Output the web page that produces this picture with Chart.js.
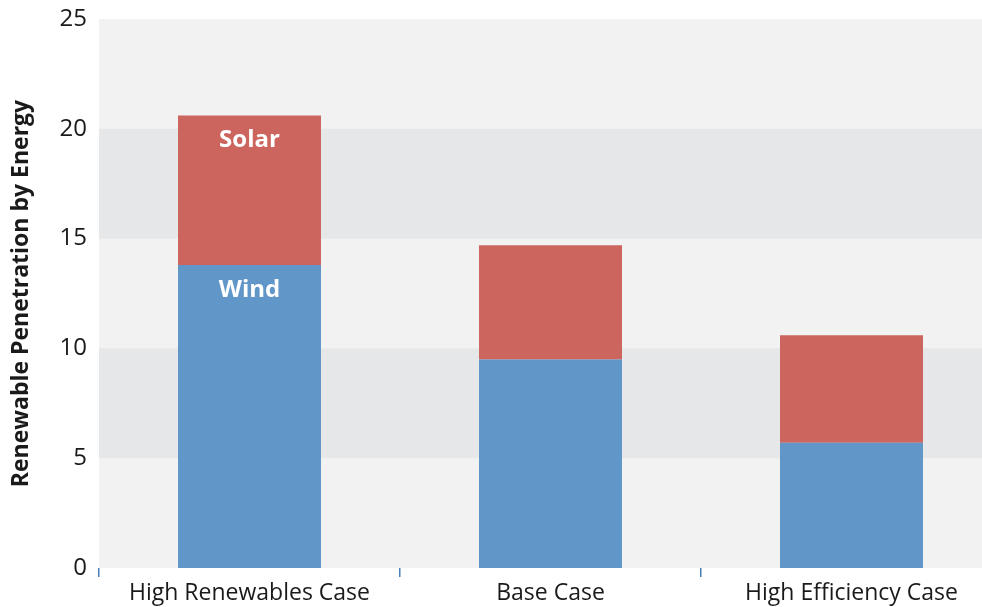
<!DOCTYPE html>
<html lang="en">
<head>
  <meta charset="UTF-8" />
  <title>Renewable Penetration by Energy</title>
  <script src="https://cdn.jsdelivr.net/npm/chart.js"></script>
  <style>
    * { box-sizing: border-box; }
    body { margin: 0; background: #fff; overflow: hidden; }
    /* the original plot runs past the right edge of the picture */
    .wrap { width: 982px; height: 607px; position: relative; overflow: hidden; }
  </style>
</head>
<body>
  <div class="wrap">
    <canvas id="chart" width="1002" height="607"></canvas>
  </div>

  <script>
    const categories = ['High Renewables Case', 'Base Case', 'High Efficiency Case'];
    const wind = [13.8, 9.5, 5.7];
    const solar = [6.8, 5.2, 4.9];
    const yTicks = [0, 5, 10, 15, 20, 25];
    const shadedBands = [[5, 10], [15, 20]];
    const seriesNames = ['Wind', 'Solar'];

    const fontFamily = '"Open Sans", "Noto Sans", sans-serif';

    // alternating grey bands behind the bars
    const bandPlugin = {
      id: 'bands',
      beforeDraw(chart) {
        const { ctx, chartArea: a, scales: { y } } = chart;
        ctx.save();
        ctx.fillStyle = '#f2f2f2';
        ctx.fillRect(a.left, a.top, a.right - a.left, a.bottom - a.top);
        ctx.fillStyle = '#e6e7e9';
        shadedBands.forEach(([lo, hi]) => {
          const top = y.getPixelForValue(hi);
          const bot = y.getPixelForValue(lo);
          ctx.fillRect(a.left, top, a.right - a.left, bot - top);
        });
        ctx.restore();
      }
    };

    // "Wind" / "Solar" labels inside the first bar
    const segLabels = {
      id: 'segLabels',
      afterDatasetsDraw(chart) {
        const { ctx } = chart;
        ctx.save();
        ctx.fillStyle = '#fff';
        ctx.font = 'bold 24px ' + fontFamily;
        ctx.textAlign = 'center';
        ctx.textBaseline = 'middle';
        chart.data.datasets.forEach((ds, i) => {
          const bar = chart.getDatasetMeta(i).data[0];
          ctx.fillText(ds.label, bar.x, bar.y + 25);
        });
        ctx.restore();
      }
    };

    new Chart(document.getElementById('chart'), {
      type: 'bar',
      data: {
        labels: categories,
        datasets: [
          { label: seriesNames[0], data: wind, backgroundColor: '#6096c8' },
          { label: seriesNames[1], data: solar, backgroundColor: '#cc655e' }
        ]
      },
      options: {
        responsive: false,
        animation: false,
        events: [],
        layout: { padding: { top: 19, right: 0, left: 0, bottom: 0 } },
        datasets: {
          bar: { categoryPercentage: 1, barPercentage: 0.475 }
        },
        plugins: {
          legend: { display: false },
          tooltip: { enabled: false }
        },
        scales: {
          x: {
            stacked: true,
            border: { display: false },
            grid: {
              offset: true,
              drawOnChartArea: false,
              drawTicks: true,
              tickLength: 9,
              color: '#4a7fb5',
              lineWidth: 1.5
            },
            ticks: {
              color: '#1a1a1a',
              font: { family: fontFamily, size: 23 },
              padding: 3,
              maxRotation: 0
            },
            afterFit(scale) { scale.height = 39; }
          },
          y: {
            stacked: true,
            min: 0,
            max: 25,
            border: { display: false },
            grid: { display: false },
            afterBuildTicks(scale) {
              scale.ticks = yTicks.map(v => ({ value: v }));
            },
            ticks: {
              color: '#1a1a1a',
              font: { family: fontFamily, size: 24 },
              padding: 4
            },
            title: {
              display: true,
              text: 'Renewable Penetration by Energy',
              color: '#1a1a1a',
              font: { family: fontFamily, size: 23, weight: 'bold' },
              padding: { top: 8, bottom: 0 }
            },
            afterFit(scale) { scale.width = 99; }
          }
        }
      },
      plugins: [bandPlugin, segLabels]
    });
  </script>
</body>
</html>
